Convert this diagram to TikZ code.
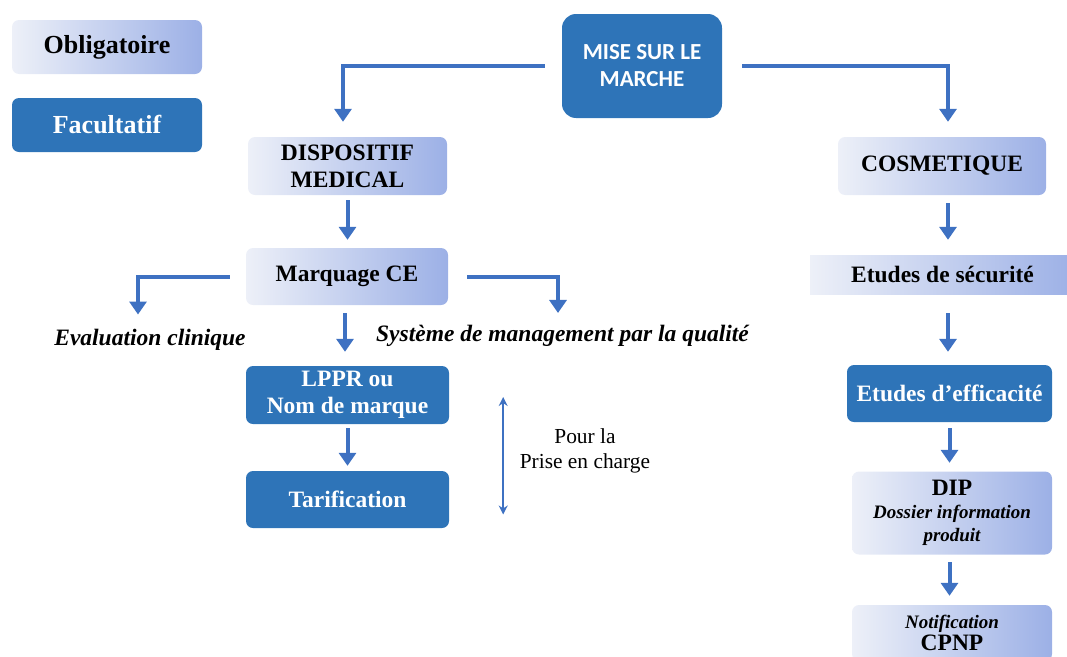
\documentclass[tikz,border=0pt]{standalone}
\usepackage{fontspec}
\setmainfont{Liberation Serif}
\newfontfamily\calibri{Carlito}
\usepackage{tikz}
\usetikzlibrary{positioning,arrows.meta}
\usepackage{xcolor}
\definecolor{bleufonce}{HTML}{2E74B8}
\definecolor{bleufleche}{HTML}{3E71C2}
\definecolor{bleuclair}{HTML}{9CB0E6}
\definecolor{bleupale}{HTML}{EDF0F8}
\tikzset{
  oblig/.style={rounded corners=7pt, left color=bleupale, right color=bleuclair, align=center, inner sep=2pt,
    font=\bfseries\fontsize{23.5}{27}\selectfont},
  facul/.style={rounded corners=7pt, fill=bleufonce, text=white, align=center, inner sep=2pt,
    font=\bfseries\fontsize{23.5}{27}\selectfont},
  fleche/.style={draw=bleufleche, line width=4pt, -{Triangle[width=17pt,length=13pt]}},
  double fleche/.style={draw=bleufleche, line width=2.2pt, {Stealth[width=9pt,length=9pt]}-{Stealth[width=9pt,length=9pt]}},
  note/.style={font=\bfseries\itshape\fontsize{23.5}{27}\selectfont, inner sep=1pt, anchor=base}
}
\begin{document}
\begin{tikzpicture}[x=1pt, y=-1pt]
\useasboundingbox (0,0) rectangle (1067,656);
\clip (0,0) rectangle (1067,656);

\node[oblig, minimum width=190pt, minimum height=54pt, font=\bfseries\fontsize{26}{28}\selectfont] (obl) at (107,47) {Obligatoire};
\node[facul, minimum width=190pt, minimum height=54pt, font=\bfseries\fontsize{26}{28}\selectfont] (fac) at (107,125) {Facultatif};

\node[facul, rounded corners=14pt, minimum width=160pt, minimum height=104pt,
  font=\calibri\bfseries\fontsize{23}{27}\selectfont] (mise) at (642,66) {MISE SUR LE\\MARCHE};

\node[oblig, minimum width=199pt, minimum height=58pt] (dm) at (347.5,166) {DISPOSITIF\\MEDICAL};
\node[oblig, minimum width=202pt, minimum height=57pt] (ce) at (347,276.5) {Marquage CE};
\node[facul, minimum width=203pt, minimum height=58pt] (lppr) at (347.5,395) {LPPR ou\\Nom de marque};
\node[facul, minimum width=203pt, minimum height=57pt] (tarif) at (347.5,499.5) {Tarification};
\node[note] (eval) at (150,345) {Evaluation clinique};
\node[note] (smq) at (562.5,341) {Système de management par la qualité};
\node[align=center, font=\fontsize{21.4}{25}\selectfont] (prise) at (585,451) {Pour la\\Prise en charge};

\node[oblig, minimum width=208pt, minimum height=58pt] (cosm) at (942,166) {COSMETIQUE};
\node[oblig, rounded corners=0pt, minimum width=265pt, minimum height=39pt] (secu) at (942.5,274.5) {Etudes de sécurité};
\node[facul, minimum width=205pt, minimum height=57pt] (eff) at (949.5,393.5) {Etudes d’efficacité};
\node[oblig, minimum width=200pt, minimum height=83pt] (dip) at (952,513)
  {DIP\\[-4pt]{\fontsize{19}{23}\itshape Dossier information}\\[-4pt]{\fontsize{19}{23}\itshape produit}};
\node[oblig, minimum width=200pt, minimum height=56pt] (notif) at (952,633)
  {{\fontsize{19}{23}\itshape Notification}\\[-5pt]CPNP};

\draw[fleche] ([xshift=-17pt]mise.west) -| ([xshift=-4.5pt,yshift=15pt]dm.north);
\draw[fleche] ([xshift=20pt]mise.east) -| ([xshift=6pt,yshift=15pt]cosm.north);
\draw[fleche] ([yshift=-5pt]dm.south) -- ([xshift=0.5pt,yshift=8pt]ce.north);
\draw[fleche] ([xshift=-16pt]ce.west) -| ([xshift=-12pt,yshift=13pt]eval.north);
\draw[fleche] ([xshift=19pt]ce.east) -| ([xshift=-4.5pt,yshift=10.5pt]smq.north);
\draw[fleche] ([xshift=-2pt,yshift=-8pt]ce.south) -- ([xshift=-2.5pt,yshift=14pt]lppr.north);
\draw[fleche] ([yshift=-4pt]lppr.south) -- ([yshift=5pt]tarif.north);
\draw[double fleche] ([xshift=54pt,yshift=-2pt]lppr.east) -- ([xshift=54pt,yshift=-15pt]tarif.east);

\draw[fleche] ([xshift=6pt,yshift=-8pt]cosm.south) -- ([xshift=5.5pt,yshift=15pt]secu.north);
\draw[fleche] ([xshift=5.5pt,yshift=-19pt]secu.south) -- ([xshift=-1.5pt,yshift=13pt]eff.north);
\draw[fleche] ([yshift=-6pt]eff.south) -- ([xshift=-2.5pt,yshift=8.5pt]dip.north);
\draw[fleche] ([xshift=-2.5pt,yshift=-7.5pt]dip.south) -- ([xshift=-2.5pt,yshift=9pt]notif.north);
\end{tikzpicture}
\end{document}
